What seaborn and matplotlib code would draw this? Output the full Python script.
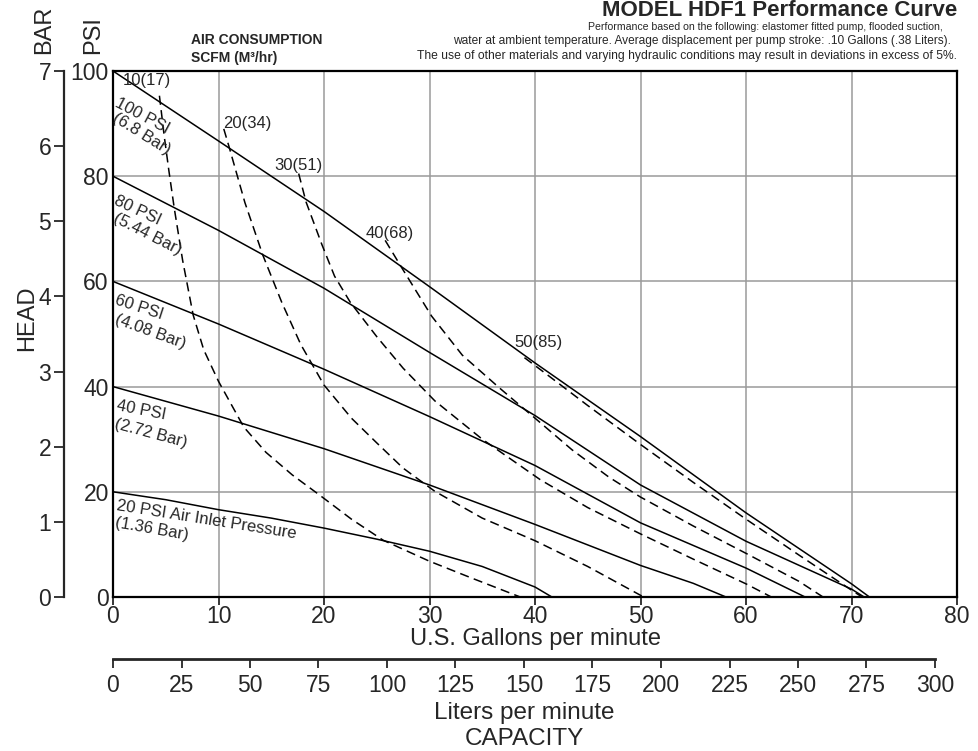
import pandas as pd
import matplotlib
matplotlib.use("Agg")
import matplotlib.pyplot as plt
import seaborn as sns

# air inlet pressure curves (solid): US gallons per minute vs head in psi
gpm_100 = [0, 10, 20, 30, 40, 50, 60, 70, 71.7]
psi_100 = [100, 86.7, 73.3, 59, 44.5, 30.5, 16, 2.5, 0]
gpm_80 = [0, 10, 20, 30, 40, 50, 60, 70, 71.2]
psi_80 = [80, 69.7, 58.7, 46.5, 34.5, 21.3, 10.6, 1.5, 0]
gpm_60 = [0, 10, 20, 30, 40, 50, 60, 65.6]
psi_60 = [60, 51.9, 43.3, 34.3, 25, 14.1, 5.5, 0]
gpm_40 = [0, 10, 20, 30, 40, 50, 55, 58.1]
psi_40 = [40, 34.4, 28.2, 21.3, 13.8, 6.0, 2.6, 0]
gpm_20 = [0, 5, 10, 15, 20, 25, 30, 35, 40, 41.6]
psi_20 = [20, 18.5, 16.6, 15, 13.1, 11, 8.7, 5.8, 1.9, 0]

# air consumption curves (dashed), SCFM
gpm_s10 = [4.4, 4.85, 5.3, 5.8, 6.6, 7.6, 8.6, 10, 12.4, 14.5, 17, 19.5, 22.6, 25.6, 30, 34, 38.6]
psi_s10 = [95.3, 87.7, 81, 74, 64, 53.6, 47, 41, 32.3, 27.5, 23.2, 19.5, 14.8, 10.8, 6.8, 3.6, 0]
gpm_s20 = [10.5, 11, 12.5, 14.2, 16, 17.8, 20, 22.6, 25, 27.5, 30.5, 35, 40, 45, 50.3]
psi_s20 = [89, 85.6, 75, 65, 56, 48, 40.3, 34, 29.3, 24.5, 20.1, 15, 10.7, 5.8, 0]
gpm_s30 = [17.6, 18.3, 19.8, 21, 22.5, 25, 27.5, 30.5, 35, 40.5, 45, 50, 55, 60, 62.4]
psi_s30 = [80.5, 75.1, 67, 61, 56, 49.5, 43.5, 37.3, 30, 22.3, 17, 12, 7.2, 2.5, 0]
gpm_s40 = [25.8, 27.4, 30.2, 33.1, 36.6, 40, 43.5, 47, 50, 55, 60, 65, 67.3]
psi_s40 = [67.8, 62.5, 53.4, 46, 39.8, 34, 28, 22.8, 19, 13.5, 8.3, 3, 0]
gpm_s50 = [39, 41, 45, 50, 55, 60, 65, 70, 71]
psi_s50 = [45.5, 42.5, 36.4, 29, 21.8, 14.8, 8, 1.3, 0]

gpm_ticks = [0, 10, 20, 30, 40, 50, 60, 70, 80]
psi_ticks = [0, 20, 40, 60, 80, 100]
bar_ticks = [0, 1, 2, 3, 4, 5, 6, 7]
lpm_ticks = [0, 25, 50, 75, 100, 125, 150, 175, 200, 225, 250, 275, 300]

pressure_lines = [("100 PSI", "(6.8 Bar)"), ("80 PSI", "(5.44 Bar)"), ("60 PSI", "(4.08 Bar)"),
                  ("40 PSI", "(2.72 Bar)"), ("20 PSI Air Inlet Pressure", "(1.36 Bar)")]
scfm_labels = ["10(17)", "20(34)", "30(51)", "40(68)", "50(85)"]

curves = [
    ("p100", "solid", gpm_100, psi_100),
    ("p80", "solid", gpm_80, psi_80),
    ("p60", "solid", gpm_60, psi_60),
    ("p40", "solid", gpm_40, psi_40),
    ("p20", "solid", gpm_20, psi_20),
    ("s10", "dashed", gpm_s10, psi_s10),
    ("s20", "dashed", gpm_s20, psi_s20),
    ("s30", "dashed", gpm_s30, psi_s30),
    ("s40", "dashed", gpm_s40, psi_s40),
    ("s50", "dashed", gpm_s50, psi_s50),
]
rows = []
for name, kind, xs, ys in curves:
    for x, y in zip(xs, ys):
        rows.append({"curve": name, "kind": kind, "gpm": x, "psi": y})
df = pd.DataFrame(rows)

sns.set_style("ticks")
plt.rcParams["font.family"] = ["Liberation Sans", "DejaVu Sans"]

W, H = 979, 751
fig = plt.figure(figsize=(W / 100, H / 100), dpi=100)
ax = fig.add_axes([113 / W, 1 - 597 / H, (957 - 113) / W, (597 - 71) / H])

sns.lineplot(data=df, x="gpm", y="psi", units="curve", estimator=None, sort=False,
             style="kind", dashes={"solid": "", "dashed": (6, 3.5)},
             color="black", lw=1.1, legend=False, ax=ax)

ax.set_xlim(0, 80)
ax.set_ylim(0, 100)
ax.set_xticks(gpm_ticks)
ax.set_yticks(psi_ticks)
ax.grid(True, color="#9a9a9a", lw=1.1)
ax.set_axisbelow(True)
for s in ax.spines.values():
    s.set_linewidth(1.6)
    s.set_color("black")
ax.tick_params(axis="x", direction="out", length=6, width=1.3, labelsize=16.5, pad=0)
ax.tick_params(axis="y", length=0, labelsize=16.5, pad=3)
ax.set_xlabel("U.S. Gallons per minute", fontsize=17, labelpad=0)
ax.set_ylabel("")

# bar scale on an outer left spine
axb = ax.twinx()
axb.set_ylim(0, 7)
axb.set_yticks(bar_ticks)
axb.yaxis.set_ticks_position("left")
axb.spines["left"].set_position(("outward", 35))
axb.spines["left"].set_linewidth(1.6)
for k in ["right", "top", "bottom"]:
    axb.spines[k].set_visible(False)
axb.tick_params(axis="y", direction="out", length=7.5, width=1.3, labelsize=16.5, pad=2)

# liters per minute scale
axl = fig.add_axes([113 / W, 1 - 659 / H, (935 - 113) / W, 0.0001])
axl.set_xlim(0, 300)
axl.set_xticks(lpm_ticks)
axl.set_yticks([])
for k in ["left", "right", "top"]:
    axl.spines[k].set_visible(False)
axl.spines["bottom"].set_linewidth(2)
axl.tick_params(axis="x", direction="out", length=6.5, width=1.3, labelsize=16.5, pad=4)
axl.set_xlabel("Liters per minute\nCAPACITY", fontsize=17.5, labelpad=4, linespacing=1.2)

# axis captions
fig.text(27 / W, 1 - 318 / H, "HEAD", rotation=90, fontsize=17, ha="center", va="center")
fig.text(44 / W, 1 - 30 / H, "BAR", rotation=90, fontsize=17, ha="center", va="center")
fig.text(93 / W, 1 - 35 / H, "PSI", rotation=90, fontsize=17, ha="center", va="center")

# header
fig.text(957 / W, 1 - 16 / H, "MODEL HDF1 Performance Curve", fontsize=16,
         fontweight="bold", ha="right", va="baseline")
fig.text(943 / W, 1 - 30 / H, "Performance based on the following: elastomer fitted pump, flooded suction,",
         fontsize=7.6, ha="right", va="baseline")
fig.text(951 / W, 1 - 44 / H, "water at ambient temperature. Average displacement per pump stroke: .10 Gallons (.38 Liters).",
         fontsize=8.6, ha="right", va="baseline")
fig.text(957 / W, 1 - 58.5 / H, "The use of other materials and varying hydraulic conditions may result in deviations in excess of 5%.",
         fontsize=8.7, ha="right", va="baseline")
fig.text(191 / W, 1 - 40 / H, "AIR CONSUMPTION", fontsize=10, fontweight="bold", ha="left", va="center")
fig.text(191 / W, 1 - 58 / H, "SCFM (M³/hr)", fontsize=10, fontweight="bold", ha="left", va="center")

# curve labels, each line placed on its own (pixel top-left -> data)
line_px = [((120, 95), (118, 110)), ((118, 193), (118, 211)), ((118, 293), (118, 312)),
           ((118, 398), (117, 417)), ((118, 498), (117, 515))]
line_rot = [(-28, -32), (-25, -27), (-18, -20), (-11, -15), (-9, -10)]
for (l1, l2), (p1, p2), (r1, r2) in zip(pressure_lines, line_px, line_rot):
    for txt, (px, py), r in ((l1, p1, r1), (l2, p2, r2)):
        ax.text((px - 113) / 10.55, (597 - py) / 5.26, txt, fontsize=12, rotation=r,
                rotation_mode="anchor", ha="left", va="top")
s_pos = [(0.9, 98.1), (10.4, 90.1), (15.3, 82.1), (23.9, 69.2), (38.0, 48.3)]
for lab, (x, y) in zip(scfm_labels, s_pos):
    ax.text(x, y, lab, fontsize=12, ha="left", va="center")

fig.savefig("out.png", dpi=100)
